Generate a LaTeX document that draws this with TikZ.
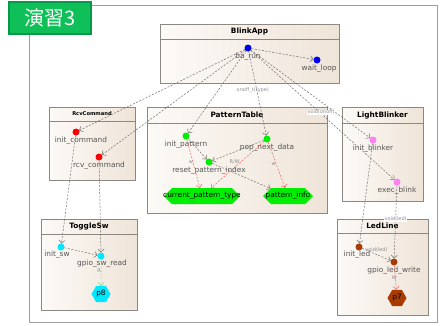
\documentclass[tikz,border=0pt]{standalone}
\usepackage{fontspec}
\setmainfont{DejaVu Sans}
\newfontfamily\cjk{Noto Sans CJK JP}
\usetikzlibrary{arrows.meta,shapes.geometric,shapes.symbols,shadows}
\definecolor{boxline}{HTML}{8E8883}
\definecolor{boxL}{HTML}{FCFAF7}
\definecolor{boxR}{HTML}{EFE4D8}
\definecolor{callgray}{HTML}{6E6E6E}
\definecolor{redline}{HTML}{F06060}
\definecolor{greenline}{HTML}{70E070}
\definecolor{lblgray}{HTML}{555555}
\definecolor{elgray}{HTML}{8C8C8C}
\definecolor{cblue}{HTML}{0000F0}
\definecolor{cred}{HTML}{FF0000}
\definecolor{cgreen}{HTML}{00EE00}
\definecolor{cpink}{HTML}{FF80F0}
\definecolor{ccyan}{HTML}{00E8FF}
\definecolor{cbrown}{HTML}{A83C00}
\definecolor{badgefill}{HTML}{0FBF57}
\definecolor{badgeline}{HTML}{07994A}
\definecolor{framegray}{HTML}{A0A0A0}
\begin{document}
\begin{tikzpicture}[x=1bp,y=-1bp,
  every node/.style={inner sep=0pt, outer sep=0pt},
  cls/.style 2 args={draw=boxline, line width=0.9bp, left color=boxL, right color=boxR,
    minimum width=#1bp, minimum height=#2bp,
    drop shadow={shadow xshift=1.2bp, shadow yshift=-1.2bp, fill=black!45, opacity=.45}},
  hdr/.style={draw=boxline, line width=0.7bp},
  title/.style={font=\bfseries\fontsize{7.4}{8}\selectfont, text=black},
  dot/.style={circle, minimum size=7bp, fill=#1},
  lbl/.style={font=\fontsize{7.4}{8}\selectfont, text=lblgray},
  elbl/.style={font=\fontsize{5}{6}\selectfont, text=elgray},
  call/.style={draw=callgray, dash pattern=on 2bp off 1.5bp, line width=0.5bp,
    -{Straight Barb[length=3bp,width=6bp]}},
  wr/.style={call, draw=redline},
  rd/.style={call, draw=greenline},
  hexbar/.style={shape=signal, signal to=west and east, signal pointer angle=90,
    fill=cgreen, minimum height=16bp},
  hextxt/.style={font=\fontsize{7.4}{8}\selectfont, text=black},
  port/.style={regular polygon, regular polygon sides=6, minimum size=19bp,
    fill=#1, font=\fontsize{7.4}{8}\selectfont, text=black}
]
\useasboundingbox (0,0) rectangle (444,325);
% outer frame
\draw[framegray, line width=0.8bp] (29,5) rectangle (437,322);
% badge
\node[fill=badgefill, draw=badgeline, line width=2bp, minimum width=82bp, minimum height=32bp,
  font=\cjk\fontsize{20}{22}\selectfont, text=white] (badge) at (50,18) {演習3};

% class boxes
\node[cls={179}{59}] (blinkapp) at (249.5,53.5) {};
\draw[hdr] ([yshift=-15bp]blinkapp.north west) -- ([yshift=-15bp]blinkapp.north east);
\node[title] (tBlink) at (249.5,31.5) {BlinkApp};

\node[cls={86}{73}] (rcvcmd) at (92,143.5) {};
\draw[hdr] ([yshift=-14bp]rcvcmd.north west) -- ([yshift=-14bp]rcvcmd.north east);
\node[title, font=\bfseries\fontsize{5.2}{6}\selectfont] (tRcv) at (92,114) {RcvCommand};

\node[cls={180}{106}] (pattab) at (237,160) {};
\draw[hdr] ([yshift=-16bp]pattab.north west) -- ([yshift=-16bp]pattab.north east);
\node[title] (tPat) at (237,115) {PatternTable};

\node[cls={81}{94}] (lightb) at (382.5,154) {};
\draw[hdr] ([yshift=-16bp]lightb.north west) -- ([yshift=-16bp]lightb.north east);
\node[title] (tLight) at (382.5,115) {LightBlinker};

\node[cls={96}{91}] (togglesw) at (89,264.5) {};
\draw[hdr] ([yshift=-15bp]togglesw.north west) -- ([yshift=-15bp]togglesw.north east);
\node[title] (tTog) at (89,226.5) {ToggleSw};

\node[cls={91}{96}] (ledline) at (382.5,267) {};
\draw[hdr] ([yshift=-14bp]ledline.north west) -- ([yshift=-14bp]ledline.north east);
\node[title] (tLed) at (382.5,226) {LedLine};

% dots
\node[dot=cblue] (barun) at (248,48) {};
\node[lbl] (lbarun) at (248,57) {ba\_run};
\node[dot=cblue] (waitloop) at (317,60) {};
\node[lbl] (lwait) at (319,69) {wait\_loop};

\node[dot=cred] (initcmd) at (76,132) {};
\node[lbl] (linitcmd) at (81,140.5) {init\_command};
\node[dot=cred] (rcvcommand) at (99,157) {};
\node[lbl] (lrcv) at (99,166) {rcv\_command};

\node[dot=cgreen] (initpat) at (186,136) {};
\node[lbl] (linitpat) at (186,144.5) {init\_pattern};
\node[dot=cgreen] (popnext) at (267,139) {};
\node[lbl] (lpop) at (267,148) {pop\_next\_data};
\node[dot=cgreen] (resetidx) at (209,162) {};
\node[lbl] (lreset) at (209,171) {reset\_pattern\_index};

\node[dot=cpink] (initblink) at (373,140) {};
\node[lbl] (linitblink) at (373,149) {init\_blinker};
\node[dot=cpink] (execblink) at (397,182) {};
\node[lbl] (lexec) at (397,191) {exec\_blink};

\node[dot=ccyan] (initsw) at (61,247) {};
\node[lbl] (linitsw) at (57,255) {init\_sw};
\node[dot=ccyan] (gpiosw) at (101,256) {};
\node[lbl] (lgpiosw) at (102,264) {gpio\_sw\_read};

\node[dot=cbrown] (initled) at (359,247) {};
\node[lbl] (linitled) at (357,255) {init\_led};
\node[dot=cbrown] (gpioled) at (394,262) {};
\node[lbl] (lgpioled) at (394,271) {gpio\_led\_write};

% data nodes
\node[hexbar, minimum width=76bp, label={[hextxt]center:current\_pattern\_type}] (cpt) at (202,196) {};
\node[hexbar, minimum width=50bp, label={[hextxt]center:pattern\_info}] (pinfo) at (288,196) {};
\node[port=ccyan] (p8) at (101,294) {p8};
\node[port=cbrown] (p7) at (397,298) {p7};

% calls
\draw[call] (barun) -- (waitloop);
\draw[call] (barun) -- (initcmd);
\draw[call] (barun) -- (rcvcommand);
\draw[call] (barun) -- (initpat);
\draw[call] (barun) -- node[elbl, pos=0.46, xshift=-4bp] (eonoff) {onoff\_t(type)} (popnext);
\draw[call] (barun) -- (initblink);
\draw[call] (barun) -- node[elbl, pos=0.48, xshift=1.5bp, fill=white, inner sep=0.5bp] (evoidonoff) {void(onoff)} (execblink);
\draw[call] (initcmd) -- (initsw);
\draw[call] (rcvcommand) -- (gpiosw);
\draw[call] (initsw) -- (gpiosw);
\draw[call] (initpat) -- (resetidx);
\draw[call] (popnext) -- (resetidx);
\draw[call] (resetidx) -- (pinfo);
\draw[call] (initblink) -- (initled);
\draw[call] (execblink) -- node[elbl, pos=0.46, fill=white, inner sep=0.5bp] (evoidled1) {void(led)} (gpioled);
\draw[call] (initled) -- node[elbl, pos=0.5, yshift=4.5bp] (evoidled2) {void(led)} (gpioled);

% data access
\draw[wr] (initpat) -- node[elbl, pos=0.46, xshift=-2bp] (ew1) {w} (cpt);
\draw[wr] (popnext) -- node[elbl, pos=0.5, xshift=-3bp, yshift=3bp] (erw) {R/W} (cpt);
\draw[wr] (popnext) -- node[elbl, pos=0.47, xshift=-2.5bp] (ew2) {w} (pinfo);
\draw[wr] (gpioled) -- node[elbl, pos=0.5, xshift=-1bp] (ew3) {W} (p7);
\draw[rd] (gpiosw) -- node[elbl, pos=0.42, xshift=-2bp] (er1) {R} (p8);
\end{tikzpicture}
\end{document}
